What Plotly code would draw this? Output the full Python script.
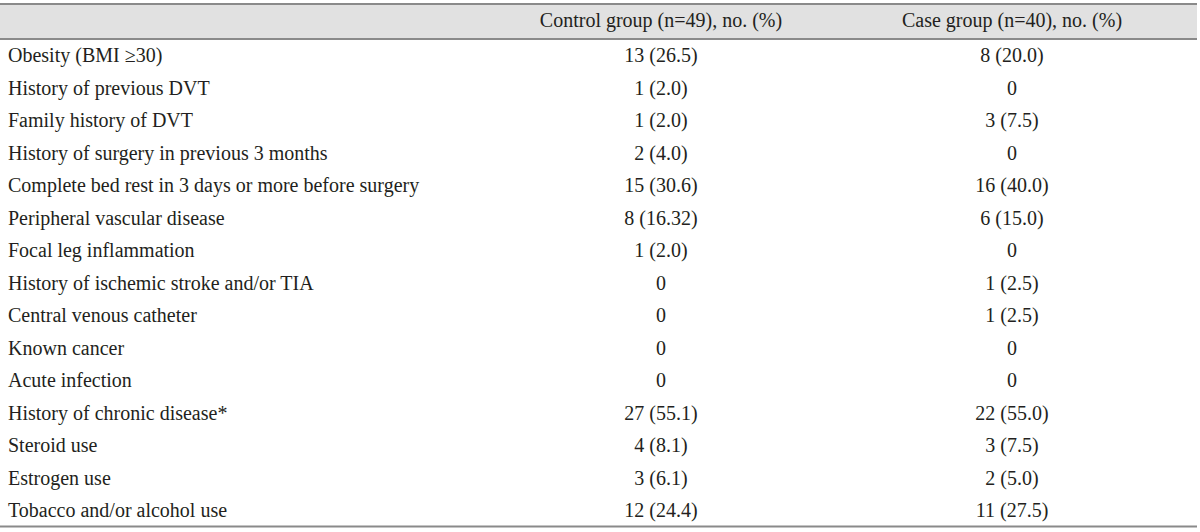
import plotly.graph_objects as go

W, H = 1200, 532

header_labels = ["", "Control group (n=49), no. (%)", "Case group (n=40), no. (%)"]

factors = [
    "Obesity (BMI ≥30)",
    "History of previous DVT",
    "Family history of DVT",
    "History of surgery in previous 3 months",
    "Complete bed rest in 3 days or more before surgery",
    "Peripheral vascular disease",
    "Focal leg inflammation",
    "History of ischemic stroke and/or TIA",
    "Central venous catheter",
    "Known cancer",
    "Acute infection",
    "History of chronic disease*",
    "Steroid use",
    "Estrogen use",
    "Tobacco and/or alcohol use",
]

control_group = [
    "13 (26.5)", "1 (2.0)", "1 (2.0)", "2 (4.0)", "15 (30.6)", "8 (16.32)",
    "1 (2.0)", "0", "0", "0", "0", "27 (55.1)", "4 (8.1)", "3 (6.1)", "12 (24.4)",
]

case_group = [
    "8 (20.0)", "0", "3 (7.5)", "0", "16 (40.0)", "6 (15.0)",
    "0", "1 (2.5)", "1 (2.5)", "0", "0", "22 (55.0)", "3 (7.5)", "2 (5.0)", "11 (27.5)",
]

FONT = "Liberation Serif"
TXT = "#231f20"
HDR_FILL = "#e1e1e1"
LINE = "#8a8a8a"

top_px = 4
hdr_h = 35
row_h = 32.5
right_px = 1197

fig = go.Figure(go.Table(
    domain=dict(x=[0, right_px / W], y=[0, 1 - top_px / H]),
    columnwidth=[495, 332, 370],
    header=dict(
        values=header_labels,
        height=hdr_h,
        fill_color=HDR_FILL,
        line=dict(color=HDR_FILL, width=0),
        align=["left", "center", "center"],
        font=dict(family=FONT, size=20, color=TXT),
    ),
    cells=dict(
        values=[factors, control_group, case_group],
        height=row_h,
        fill_color="white",
        line=dict(color="white", width=0),
        align=["left", "center", "center"],
        font=dict(family=FONT, size=20, color=TXT),
    ),
))

def hline(px):
    y = 1 - px / H
    fig.add_shape(type="line", xref="paper", yref="paper",
                  x0=0, x1=right_px / W, y0=y, y1=y,
                  line=dict(color=LINE, width=2))

hline(top_px)
hline(top_px + hdr_h)
hline(top_px + hdr_h + row_h * len(factors))

fig.update_layout(
    width=W, height=H,
    margin=dict(l=0, r=0, t=0, b=0),
    paper_bgcolor="white",
    plot_bgcolor="white",
)

fig.write_html(
    "out.html",
    config={"displayModeBar": False},
    post_script="document.body.style.margin='0';document.body.style.overflow='hidden';",
)
